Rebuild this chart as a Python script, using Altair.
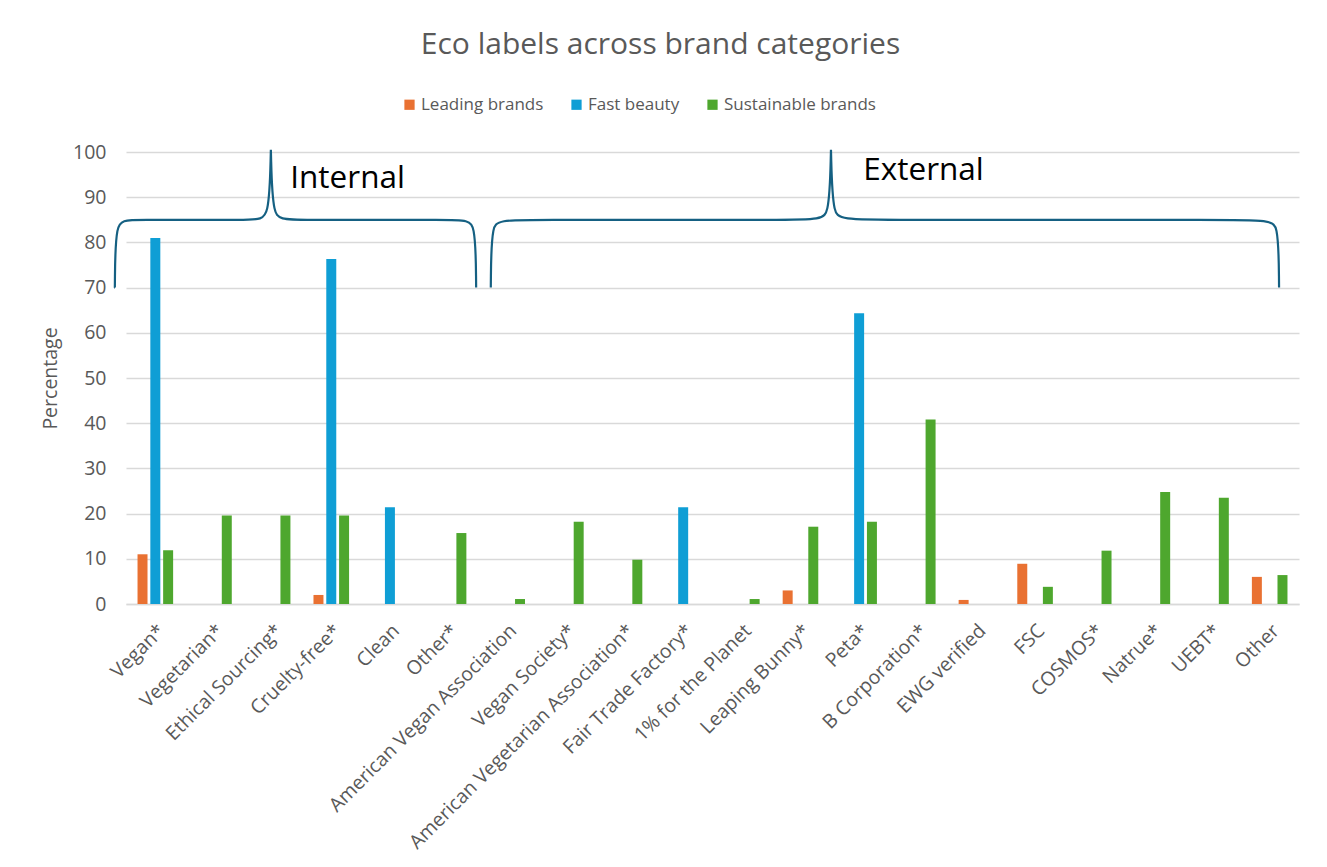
import altair as alt
import pandas as pd

# ---------------- data ----------------
categories = ["Vegan*", "Vegetarian*", "Ethical Sourcing*", "Cruelty-free*", "Clean", "Other*",
              "American Vegan Association", "Vegan Society*", "American Vegetarian Association*",
              "Fair Trade Factory*", "1% for the Planet", "Leaping Bunny*", "Peta*", "B Corporation*",
              "EWG verified", "FSC", "COSMOS*", "Natrue*", "UEBT*", "Other"]
series_names = ["Leading brands", "Fast beauty", "Sustainable brands"]
leading = [11.0, 0, 0, 2.0, 0, 0, 0, 0, 0, 0, 0, 3.0, 0, 0, 0.9, 8.9, 0, 0, 0, 6.0]
fast = [81.0, 0, 0, 76.3, 21.4, 0, 0, 0, 0, 21.4, 0, 0, 64.3, 0, 0, 0, 0, 0, 0, 0]
sustainable = [11.9, 19.6, 19.6, 19.6, 0, 15.7, 1.1, 18.2, 9.8, 0, 1.1, 17.1, 18.2, 40.8, 0, 3.8, 11.8, 24.8, 23.5, 6.4]
colors = ["#E97132", "#0F9ED5", "#4EA72E"]

# bracket annotations (in category-index units and percentage units)
group_names = ["Internal", "External"]
group_left = [-0.19, 6.22]
group_tip = [2.47, 12.02]
group_right = [5.97, 19.66]
group_label_x = [2.80, 12.57]
group_label_y = [92.1, 93.9]
arm_base, arm_top, tip_top = 70, 85, 100.5

rows = []
for s, vals in zip(series_names, [leading, fast, sustainable]):
    for c, v in zip(categories, vals):
        if v > 0:
            rows.append({"label": c, "series": s, "value": v})
df = pd.DataFrame(rows)

brace_rows = []
for g, L, T, R in zip(group_names, group_left, group_tip, group_right):
    pts = [(L, arm_base), (L, arm_base), (L + 0.01, arm_top), (L + 0.22, arm_top),
           (T - 0.25, arm_top), (T - 0.03, arm_top), (T, tip_top), (T, tip_top), (T, tip_top),
           (T + 0.03, arm_top), (T + 0.25, arm_top),
           (R - 0.22, arm_top), (R - 0.01, arm_top), (R, arm_base), (R, arm_base)]
    for i, (x, y) in enumerate(pts):
        brace_rows.append({"group": g, "i": i, "u": x, "v": y})
brace_df = pd.DataFrame(brace_rows)
label_df = pd.DataFrame({"text": group_names, "u": group_label_x, "v": group_label_y})

FONT = "Open Sans"
GRAY = "#595959"
W, H = 1173, 452

bars = alt.Chart(df).mark_bar().encode(
    x=alt.X("label:N", sort=categories,
            scale=alt.Scale(paddingInner=0, paddingOuter=0),
            axis=alt.Axis(title=None, labelAngle=-45, labelAlign="right", labelBaseline="top",
                          labelPadding=17, labelFontSize=19.5, labelColor=GRAY, labelFont=FONT,
                          ticks=False, domainColor="#D9D9D9", domainWidth=1.5, labelLimit=400)),
    xOffset=alt.XOffset("series:N", sort=series_names,
                        scale=alt.Scale(paddingInner=0.22, paddingOuter=0.9)),
    y=alt.Y("value:Q", scale=alt.Scale(domain=[0, 100]),
            axis=alt.Axis(title="Percentage", values=list(range(0, 101, 10)), ticks=False,
                          domain=False, gridColor="#D9D9D9", gridWidth=1.3,
                          labelFontSize=19.5, labelColor=GRAY, labelFont=FONT, labelPadding=20,
                          titleFontSize=19.5, titleColor=GRAY, titleFont=FONT,
                          titleFontWeight="normal", titlePadding=12)),
    color=alt.Color("series:N", sort=series_names,
                    scale=alt.Scale(domain=series_names, range=colors),
                    legend=alt.Legend(title=None, orient="none", direction="horizontal",
                                      legendX=275, legendY=-56, symbolType="square",
                                      symbolSize=105, symbolStrokeWidth=0,
                                      labelFontSize=17, labelColor=GRAY, labelFont=FONT,
                                      labelOffset=3, columnPadding=24)),
)

xq = alt.X("u:Q", scale=alt.Scale(domain=[0, 20], nice=False, zero=False), axis=None)

braces = alt.Chart(brace_df).mark_line(interpolate="basis", color="#156082", strokeWidth=2.2).encode(
    x=xq,
    y=alt.Y("v:Q", scale=alt.Scale(domain=[0, 100])),
    detail="group:N",
    order=alt.Order("i:Q"),
)

labels = alt.Chart(label_df).mark_text(align="left", baseline="alphabetic", fontSize=31.5,
                                       font=FONT, color="#000000").encode(
    x=xq,
    y=alt.Y("v:Q", scale=alt.Scale(domain=[0, 100])),
    text="text:N",
)

chart = alt.layer(bars, braces, labels).resolve_scale(x="independent").properties(
    width=W, height=H,
    title=alt.TitleParams("Eco labels across brand categories", fontSize=30, font=FONT,
                          color=GRAY, fontWeight="normal", anchor="middle", dx=-52,
                          baseline="alphabetic", offset=12),
    autosize=alt.AutoSizeParams(type="none"),
    padding={"left": 126, "top": 152, "right": 28, "bottom": 263},
    background="white",
).configure_view(stroke=None)

chart.save("out.html", embed_options={"renderer": "svg", "actions": False})
